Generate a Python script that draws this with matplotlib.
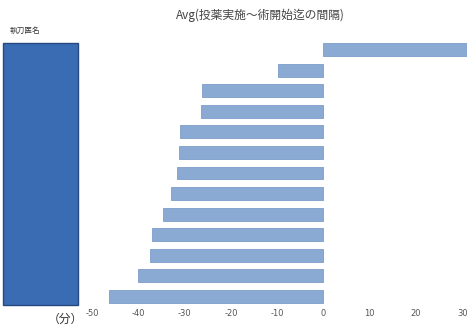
import matplotlib
matplotlib.use("Agg")
import matplotlib.pyplot as plt
from matplotlib.patches import Rectangle

plt.rcParams['font.family'] = ['Noto Sans CJK JP', 'DejaVu Sans']

title = "Avg(投薬実施～術開始迄の間隔)"
row_header = "執刀医名"
unit_label = "（分）"
values = [31, -9.8, -26.2, -26.5, -30.9, -31.3, -31.6, -33.0, -34.7, -37.0, -37.5, -40.1, -46.3]
xticks = [-50, -40, -30, -20, -10, 0, 10, 20, 30]

W, H = 467, 334
fig = plt.figure(figsize=(W / 100, H / 100), dpi=100)

ax_left, ax_right = 92, 467
ax_top, ax_bottom = 39.2, 306.8
ax = fig.add_axes([ax_left / W, 1 - ax_bottom / H, (ax_right - ax_left) / W, (ax_bottom - ax_top) / H])

ypos = list(range(len(values)))
ax.barh(ypos, values, height=0.63, color='#8AAAD4', edgecolor='#7C9CC8', linewidth=0.6)
ax.set_ylim(len(values) - 0.5, -0.5)
ax.set_xlim(-50, 31)
ax.set_xticks(xticks)
ax.set_xticklabels([str(t) for t in xticks], fontsize=6, color='#555555', family='DejaVu Sans')
ax.tick_params(axis='x', length=0, pad=1.5)
ax.set_yticks([])
for s in ax.spines.values():
    s.set_visible(False)

# Row-header block on the left
fig.patches.append(Rectangle((3 / W, 1 - 305 / H), 75 / W, (305 - 43) / H,
                             transform=fig.transFigure, facecolor='#3A6CB4',
                             edgecolor='#24487F', linewidth=1.0))

fig.text(260 / W, 1 - 15 / H, title, ha='center', va='center', fontsize=8.5, color='#444444')
fig.text(10 / W, 1 - 31 / H, row_header, ha='left', va='center', fontsize=5.5, color='#333333')
fig.text(65 / W, 1 - 319 / H, unit_label, ha='center', va='center', fontsize=8.5, color='#333333')

fig.savefig("out.png", dpi=100)
